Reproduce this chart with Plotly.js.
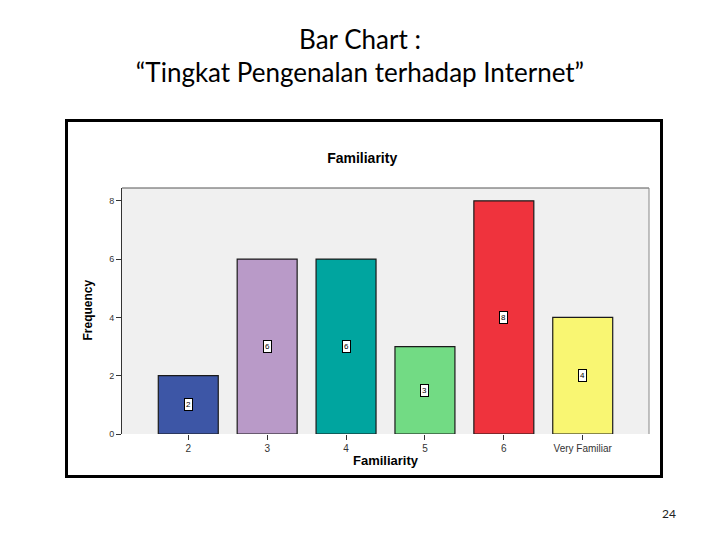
<!DOCTYPE html>
<html>
<head>
<meta charset="utf-8">
<script src="https://cdn.plot.ly/plotly-3.0.1.min.js"></script>
<style>
  html, body { margin: 0; padding: 0; background: #fff; }
  #slide { position: relative; width: 720px; height: 540px; overflow: hidden; }
  #chart { position: absolute; left: 0; top: 0; width: 720px; height: 540px; }
  .heading { position: absolute; left: 0; width: 720px; text-align: center;
             font-family: Lato, "Noto Sans", sans-serif; font-size: 26px; color: #000; }
  #frame { position: absolute; left: 65px; top: 119px; width: 592px; height: 353px;
           border: 3px solid #000; pointer-events: none; }
  #page { position: absolute; left: 662px; top: 506px; font-family: Lato, sans-serif;
          font-size: 12px; color: #222; }
</style>
</head>
<body>
<div id="slide">
  <div id="chart"></div>
  <div id="frame"></div>
  <div class="heading" style="top:23px">Bar Chart :</div>
  <div class="heading" style="top:56px">“Tingkat Pengenalan terhadap Internet”</div>
  <div id="page">24</div>
</div>
<script>
const categories = ["2", "3", "4", "5", "6", "Very Familiar"];
const frequencies = [2, 6, 6, 3, 8, 4];
const barColors = ["#3d56a6", "#b99ac8", "#00a59f", "#72db84", "#ef333d", "#f9f672"];
const yTicks = [0, 2, 4, 6, 8];

const chartFont = "Liberation Sans, Arial, sans-serif";

// value boxes in the middle of each bar (category index, since labels look numeric)
const labelBoxes = categories.map((c, i) => ({
  x: i, y: frequencies[i] / 2, xref: "x", yref: "y",
  text: String(frequencies[i]), showarrow: false,
  font: { family: chartFont, size: 8, color: "#000" },
  bgcolor: "#fff", bordercolor: "#000", borderwidth: 1, borderpad: 1
}));

Plotly.newPlot("chart", [{
  x: categories,
  y: frequencies,
  type: "bar",
  width: 0.76,
  marker: { color: barColors, line: { color: "#1a1a1a", width: 1.2 } },
  hoverinfo: "skip"
}], {
  width: 720, height: 540,
  margin: { l: 122, r: 71, t: 188, b: 106 },
  paper_bgcolor: "#fff",
  plot_bgcolor: "#f0f0f0",
  showlegend: false,
  title: {
    text: "<b>Familiarity</b>", x: 0.503, xref: "container", y: 0.707, yref: "container",
    xanchor: "center", yanchor: "middle",
    font: { family: chartFont, size: 14, color: "#000" }
  },
  xaxis: {
    type: "category", range: [-0.84, 5.84],
    showgrid: false, zeroline: false, showline: false,
    ticks: "outside", ticklen: 5, tickcolor: "#333", tickwidth: 1,
    tickfont: { family: chartFont, size: 10, color: "#333" }
  },
  yaxis: {
    range: [0, 8.44], tickvals: yTicks,
    showgrid: false, zeroline: false,
    showline: true, linecolor: "#333", linewidth: 1,
    ticks: "outside", ticklen: 5, tickcolor: "#333", tickwidth: 1,
    tickfont: { family: chartFont, size: 9, color: "#333" }
  },
  shapes: [
    { type: "line", xref: "paper", yref: "paper", x0: 0, x1: 1, y0: 1, y1: 1,
      line: { color: "#555", width: 1 } },
    { type: "line", xref: "paper", yref: "paper", x0: 1, x1: 1, y0: 0, y1: 1,
      line: { color: "#888", width: 1 } }
  ],
  annotations: labelBoxes.concat([
    { text: "<b>Familiarity</b>", xref: "paper", yref: "paper", x: 0.5, y: -0.107,
      xanchor: "center", yanchor: "middle", showarrow: false,
      font: { family: chartFont, size: 13, color: "#000" } },
    { text: "<b>Frequency</b>", xref: "paper", yref: "paper", x: -0.065, y: 0.505,
      xanchor: "center", yanchor: "middle", textangle: -90, showarrow: false,
      font: { family: chartFont, size: 12, color: "#000" } }
  ])
}, { displayModeBar: false, staticPlot: true });
</script>
</body>
</html>
